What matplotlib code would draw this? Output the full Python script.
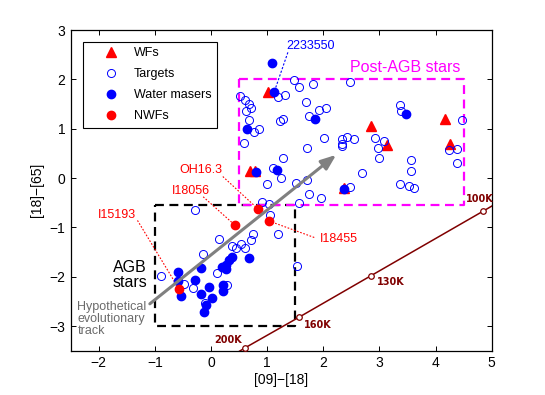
import matplotlib
matplotlib.use('Agg')
import matplotlib.pyplot as plt

plt.rcParams['font.family'] = ['Liberation Sans', 'DejaVu Sans']

# targets (open circles), [09]-[18] vs [18]-[65]
tgt_x = [1.47, 1.56, 1.82, 2.47, 1.19, 1.31, 0.52, 0.61, 0.67, 0.71, 0.62, 0.68,
         0.77, 0.86, 0.58, 1.69, 1.75, 1.93, 2.04, 1.22, 1.28, 2.02, 1.71, 2.33,
         2.42, 2.54, 2.33, 2.34, 2.69, 1.11, 1.25, 1.29, 0.99, 1.51, 1.71, 1.75,
         1.96, 2.48, 0.91, 1.03, 1.56, 1.05, 2.92, 2.97, 2.99, 3.08, 3.37, 3.38,
         4.47, 4.24, 4.38, 4.39, 3.57, 3.56, 3.37, 3.53, 3.61,
         -0.89, -0.48, -0.32, -0.14, -0.11, 0.11, 0.28, 0.15, 0.37, 0.45, 0.53,
         0.61, 0.71, 0.74, 1.20, 1.53, -0.29]
tgt_y = [1.98, 1.84, 1.90, 1.94, 1.64, 1.69, 1.66, 1.59, 1.50, 1.42, 1.35, 1.18,
         0.94, 1.00, 0.70, 1.54, 1.25, 1.38, 1.41, 1.16, 1.20, 0.82, 0.60, 0.79,
         0.84, 0.79, 0.64, 0.68, 0.11, 0.21, 0.01, 0.41, -0.13, -0.11, -0.05, -0.33,
         -0.41, -0.18, -0.48, -0.52, -0.50, -0.75, 0.81, 0.60, 0.41, 0.76, 1.49, 1.35,
         1.17, 0.57, 0.58, 0.30, 0.37, 0.15, -0.12, -0.16, -0.21,
         -1.99, -2.15, -2.23, -1.55, -2.53, -1.93, -2.16, -1.23, -1.38, -1.42, -1.33,
         -1.42, -1.25, -1.13, -1.13, -1.79, -0.65]

# water masers (filled blue)
wm_x = [1.08, 1.12, 0.64, 1.85, 3.48, 0.80, 1.18, 2.36,
        -0.58, -0.58, -0.54, -0.29, -0.18, -0.17, -0.03, -0.09, -0.12, 0.02,
        0.38, 0.32, 0.27, 0.20, 0.26, 0.21, 0.21, 0.68]
wm_y = [2.33, 1.74, 1.00, 1.20, 1.30, 0.13, 0.16, -0.23,
        -1.91, -2.08, -2.40, -2.06, -1.82, -2.36, -2.21, -2.57, -2.72, -2.43,
        -1.60, -1.67, -1.76, -1.80, -1.85, -2.16, -2.30, -1.62]

# water fountains (triangles)
wf_x = [1.01, 0.70, 0.78, 2.36, 2.85, 3.13, 4.16, 4.26]
wf_y = [1.74, 0.15, 0.15, -0.21, 1.06, 0.67, 1.19, 0.69]

# non water fountains (red dots)
nwf_names = ['I15193', 'I18056', 'OH16.3', 'I18455']
nwf_x = [-0.57, 0.43, 0.83, 1.03]
nwf_y = [-2.25, -0.96, -0.62, -0.87]

# blackbody temperature track
bb_labels = ['200K', '160K', '130K', '100K']
bb_x = [0.61, 1.57, 2.85, 4.85]
bb_y = [-3.44, -2.82, -1.98, -0.67]
track_x = [0.45, 0.61, 1.57, 2.85, 4.85, 5.3]
track_y = [-3.55, -3.44, -2.82, -1.98, -0.67, -0.37]

blue = (0, 0, 1)
red = (1, 0, 0)
mag = (1, 0, 1)
dred = (0.5, 0, 0)
gray = (0.5, 0.5, 0.5)

fig = plt.figure(figsize=(5.45, 3.95), dpi=100)
ax = fig.add_axes([0.1297, 0.1122, 0.7725, 0.8118])

# boxes
ax.plot([-1, 1.5, 1.5, -1, -1], [-0.55, -0.55, -3, -3, -0.55], color='k', lw=1.6,
        dashes=(4, 2.5), zorder=1)
ax.plot([0.5, 4.5, 4.5, 0.5, 0.5], [2, 2, -0.55, -0.55, 2], color=mag, lw=1.6,
        dashes=(4, 2.5), zorder=1)

# temperature track
ax.plot(track_x, track_y, color=dred, lw=1.1, zorder=2)
ax.plot(bb_x, bb_y, 'o', mfc='white', mec=dred, ms=4, mew=0.9, zorder=3,
        clip_on=False)
tl = dict(color=dred, fontsize=7, fontweight='bold', family=['DejaVu Sans'],
          va='center')
ax.text(0.55, -3.29, bb_labels[0], ha='right', **tl)
ax.text(1.66, -2.97, bb_labels[1], ha='left', **tl)
ax.text(2.95, -2.10, bb_labels[2], ha='left', **tl)
ax.text(4.54, -0.43, bb_labels[3], ha='left', **tl)

# points
ax.plot(wf_x, wf_y, '^', color=red, ms=7, zorder=4, label='WFs')
ax.plot(tgt_x, tgt_y, 'o', mfc='none', mec=blue, ms=5.8, mew=0.7, zorder=5,
        label='Targets')
ax.plot(wm_x, wm_y, 'o', color=blue, ms=6, zorder=6, label='Water masers')
ax.plot(nwf_x, nwf_y, 'o', color=red, ms=6, zorder=7, label='NWFs')

# evolutionary arrow
ax.annotate('', xy=(2.23, 0.47), xytext=(-1.09, -2.55),
            arrowprops=dict(arrowstyle='-|>,head_length=0.9,head_width=0.35',
                            color=gray, lw=2.2, shrinkA=0, shrinkB=0), zorder=8)

# labels of individual sources
lbl = dict(color=red, fontsize=9, va='center')
ax.text(-1.34, -0.74, nwf_names[0], ha='right', **lbl)
ax.plot([-1.31, nwf_x[0]], [-0.86, nwf_y[0]], color=red, lw=0.8, ls=(0, (1.5, 1.5)), zorder=3)
ax.text(-0.02, -0.27, nwf_names[1], ha='right', **lbl)
ax.plot([-0.14, nwf_x[1]], [-0.38, nwf_y[1]], color=red, lw=0.8, ls=(0, (1.5, 1.5)), zorder=3)
ax.text(0.20, 0.16, nwf_names[2], ha='right', **lbl)
ax.plot([0.21, nwf_x[2]], [0.03, nwf_y[2]], color=red, lw=0.8, ls=(0, (1.5, 1.5)), zorder=3)
ax.text(1.94, -1.24, nwf_names[3], ha='left', **lbl)
ax.plot([nwf_x[3], 1.85], [nwf_y[3], -1.21], color=red, lw=0.8, ls=(0, (1.5, 1.5)), zorder=3)

ax.text(1.35, 2.67, '2233550', color=blue, fontsize=9, ha='left', va='center')
ax.plot([1.13, 1.37], [1.76, 2.55], color=blue, lw=0.8, ls=(0, (2, 1.5)), zorder=3)

ax.text(2.48, 2.25, 'Post-AGB stars', color=mag, fontsize=11.5, ha='left',
        va='center')
ax.text(-1.14, -1.96, 'AGB\nstars', color='k', fontsize=11.5, ha='right',
        va='center', multialignment='center', linespacing=1.0)
ax.text(-2.38, -2.85, 'Hypothetical\nevolutionary\ntrack', color=(0.42, 0.42, 0.42),
        fontsize=9, ha='left', va='center', linespacing=1.0)

ax.set_xlim(-2.5, 5)
ax.set_ylim(-3.5, 3)
ax.set_xticks(range(-2, 6))
ax.set_yticks(range(-3, 4))
ax.tick_params(direction='in', length=3.5, width=0.7, top=True, right=True,
               labelsize=10, pad=4)
for s in ax.spines.values():
    s.set_linewidth(0.9)
ax.set_xlabel('[09]\u2212[18]', fontsize=10, labelpad=2)
ax.set_ylabel('[18]\u2212[65]', fontsize=10, labelpad=4)

leg = ax.legend(loc='upper left', bbox_to_anchor=(0.030, 0.9635), borderaxespad=0,
                fontsize=9, frameon=True, fancybox=False, edgecolor='k',
                framealpha=1, borderpad=0.45, handlelength=3.5, handletextpad=0.1,
                labelspacing=0.72, numpoints=1)
leg.get_frame().set_linewidth(0.8)
leg.set_zorder(10)

fig.savefig('out.png', dpi=100)
